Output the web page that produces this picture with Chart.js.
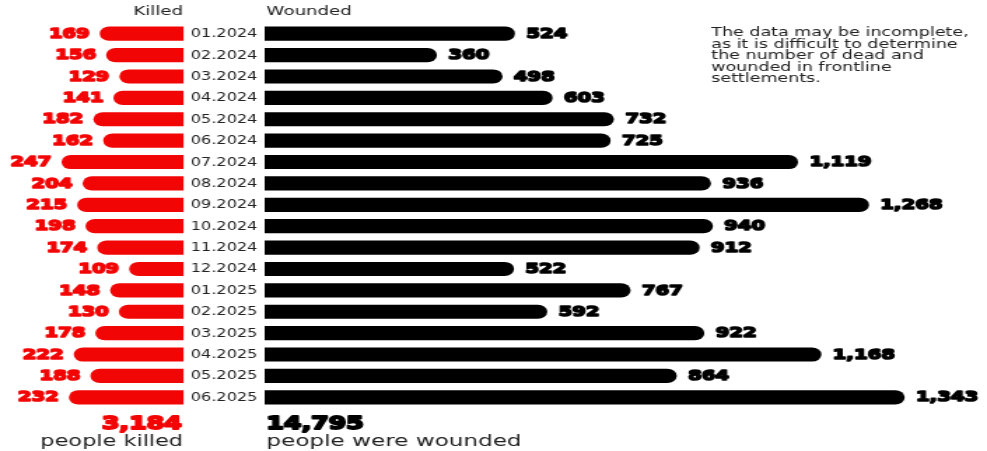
<!DOCTYPE html>
<html>
<head>
<meta charset="utf-8">
<script src="https://cdn.jsdelivr.net/npm/chart.js@4.4.0/dist/chart.umd.min.js"></script>
<style>
  html, body { margin: 0; padding: 0; background: #fff; overflow: hidden; }
  #wrap { width: 987px; height: 451px; position: relative; }
  /* the whole graphic is drawn narrow, then stretched sideways */
  #casualties { position: absolute; left: 0; top: 0; transform-origin: 0 0; transform: scaleX(1.4); }
</style>
</head>
<body>
<div id="wrap"><canvas id="casualties" width="705" height="451"></canvas></div>
<script>
var months = ["01.2024", "02.2024", "03.2024", "04.2024", "05.2024", "06.2024",
              "07.2024", "08.2024", "09.2024", "10.2024", "11.2024", "12.2024",
              "01.2025", "02.2025", "03.2025", "04.2025", "05.2025", "06.2025"];
var killed  = [169, 156, 129, 141, 182, 162, 247, 204, 215, 198, 174, 109, 148, 130, 178, 222, 188, 232];
var wounded = [524, 360, 498, 603, 732, 725, 1119, 936, 1268, 940, 912, 522, 767, 592, 922, 1168, 864, 1343];
var note = ["The data may be incomplete,", "as it is difficult to determine",
            "the number of dead and", "wounded in frontline", "settlements."];

var RED = "#f20505";
var TEXT = "#222";

var sum = function (a) { return a.reduce(function (s, v) { return s + v; }, 0); };
var fmt = function (v) { return v.toLocaleString("en-US"); };

// extra-heavy numbers: fill plus a stroke of the same colour
function heavy(ctx, txt, x, y, color, w) {
  ctx.fillStyle = color;
  ctx.strokeStyle = color;
  ctx.lineWidth = w;
  ctx.lineJoin = "round";
  ctx.strokeText(txt, x, y);
  ctx.fillText(txt, x, y);
}

var textPlugin = {
  id: "textPlugin",
  afterDatasetsDraw: function (chart) {
    var ctx = chart.ctx;
    var y = chart.scales.y, xk = chart.scales.xk, xw = chart.scales.xw;
    var k0 = xk.getPixelForValue(0), w0 = xw.getPixelForValue(0);
    var mid = (k0 + w0) / 2;

    ctx.save();
    ctx.textBaseline = "middle";
    months.forEach(function (m, i) {
      var py = y.getPixelForValue(i) + 0.5;
      ctx.font = "11.5px 'DejaVu Sans'";
      ctx.fillStyle = TEXT;
      ctx.textAlign = "center";
      ctx.fillText(m, mid, py);

      ctx.font = "bold 14px 'DejaVu Sans'";
      ctx.textAlign = "right";
      heavy(ctx, fmt(killed[i]), xk.getPixelForValue(killed[i]) - 7.5, py, RED, 1.6);
      ctx.textAlign = "left";
      heavy(ctx, fmt(wounded[i]), xw.getPixelForValue(wounded[i]) + 8.5, py, "#000", 1.6);
    });

    // column headers
    ctx.textBaseline = "alphabetic";
    ctx.font = "13px 'DejaVu Sans'";
    ctx.fillStyle = TEXT;
    ctx.textAlign = "right";
    ctx.fillText("Killed", k0, 15);
    ctx.textAlign = "left";
    ctx.fillText("Wounded", w0 + 1, 15);

    // totals
    ctx.font = "bold 18px 'DejaVu Sans'";
    ctx.textAlign = "right";
    heavy(ctx, fmt(sum(killed)), k0 - 1, 429, RED, 2);
    ctx.textAlign = "left";
    heavy(ctx, fmt(sum(wounded)), w0 + 1, 429, "#000", 2);
    ctx.fillStyle = TEXT;
    ctx.font = "16px 'DejaVu Sans'";
    ctx.textAlign = "right";
    ctx.fillText("people killed", k0, 446);
    ctx.font = "16.5px 'DejaVu Sans'";
    ctx.textAlign = "left";
    ctx.fillText("people were wounded", w0 + 1, 446);

    // note, top right
    ctx.font = "12.5px 'DejaVu Sans'";
    note.forEach(function (line, i) {
      ctx.fillText(line, 508, 36 + i * 11.6);
    });
    ctx.restore();
  }
};

var chart = new Chart(document.getElementById("casualties"), {
  type: "bar",
  data: {
    labels: months,
    datasets: [
      {
        label: "Killed",
        data: killed,
        xAxisID: "xk",
        backgroundColor: RED,
        borderRadius: 7,
        barThickness: 13.5,
        grouped: false
      },
      {
        label: "Wounded",
        data: wounded,
        xAxisID: "xw",
        backgroundColor: "#000",
        borderRadius: 7,
        barThickness: 13.5,
        grouped: false
      }
    ]
  },
  options: {
    indexAxis: "y",
    responsive: false,
    animation: false,
    layout: { padding: { top: 23, bottom: 43, left: 0, right: 0 } },
    scales: {
      y: { type: "category", display: false, offset: true },
      xk: { type: "linear", axis: "x", reverse: true, min: -1640, max: 373.5, display: false },
      xw: { type: "linear", axis: "x", min: -557, max: 1517, display: false }
    },
    plugins: {
      legend: { display: false },
      tooltip: { enabled: false }
    }
  },
  plugins: [textPlugin]
});
</script>
</body>
</html>
